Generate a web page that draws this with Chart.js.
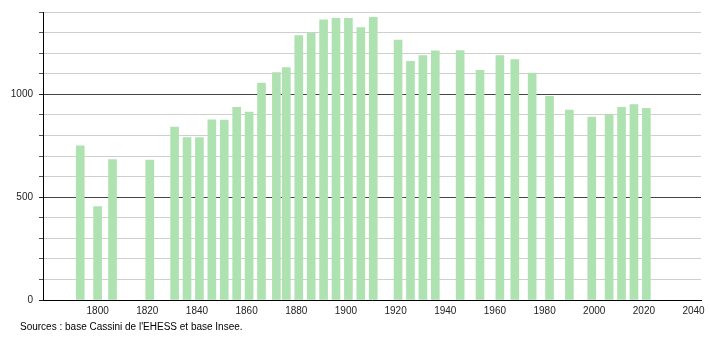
<!DOCTYPE html>
<html>
<head>
<meta charset="utf-8">
<script src="https://cdn.jsdelivr.net/npm/chart.js@4/dist/chart.umd.min.js"></script>
<style>
    html, body { margin: 0; padding: 0; background: #fff; }
    #wrap { position: relative; width: 710px; height: 340px; }
    #source { position: absolute; left: 20px; top: 321px; font: 10px "Liberation Sans", Arial, sans-serif; color: #000; white-space: nowrap; }
</style>
</head>
<body>
<div id="wrap">
    <canvas id="chart" width="710" height="340"></canvas>
    <div id="source">Sources : base Cassini de l'EHESS et base Insee.</div>
</div>
<script>
// ===== POPULATION DATA =====
const years = [1793, 1800, 1806, 1821, 1831, 1836, 1841, 1846, 1851, 1856, 1861, 1866,
    1872, 1876, 1881, 1886, 1891, 1896, 1901, 1906, 1911, 1921, 1926, 1931, 1936,
    1946, 1954, 1962, 1968, 1975, 1982, 1990, 1999, 2006, 2011, 2016, 2021];
const population = [749, 454, 682, 680, 840, 789, 789, 876, 875, 937, 913, 1055,
    1106, 1130, 1285, 1296, 1362, 1369, 1369, 1324, 1374, 1264, 1160, 1188, 1211,
    1213, 1116, 1188, 1169, 1103, 990, 923, 889, 902, 937, 950, 932];
const xTicks = [1800, 1820, 1840, 1860, 1880, 1900, 1920, 1940, 1960, 1980, 2000, 2020, 2040];
const yLabels = [0, 500, 1000];

const labelFont = { family: '"Liberation Sans", Arial, sans-serif', size: 10 };

new Chart(document.getElementById('chart'), {
    type: 'bar',
    data: {
        datasets: [{
            data: years.map((y, i) => ({ x: y, y: population[i] })),
            backgroundColor: '#afe2b1',
            borderWidth: 0,
            barThickness: 8
        }]
    },
    options: {
        responsive: false,
        animation: false,
        layout: { padding: { top: 10, right: 9, left: 0, bottom: 0 } },
        plugins: { legend: { display: false }, tooltip: { enabled: false } },
        scales: {
            x: {
                type: 'linear',
                offset: false,
                min: 1778,
                max: 2043,
                afterBuildTicks: s => { s.ticks = xTicks.map(v => ({ value: v })); },
                afterFit: s => { s.height = 40; },
                grid: { display: false, drawTicks: false },
                border: { display: true, color: '#000', width: 1 },
                ticks: { color: '#222', font: labelFont, padding: 5, maxRotation: 0, autoSkip: false, callback: v => String(v) }
            },
            y: {
                min: 0,
                max: 1400,
                afterFit: s => { s.width = 43; },
                ticks: {
                    stepSize: 100,
                    color: '#222',
                    font: labelFont,
                    padding: 6,
                    callback: v => yLabels.includes(v) ? String(v) : ''
                },
                grid: {
                    color: c => (c.tick && c.tick.value % 500 === 0 && c.tick.value > 0) ? '#444' : '#cfcfcf',
                    tickColor: c => (c.tick && c.tick.value % 500 === 0) ? '#222' : '#555',
                    tickLength: 4,
                    lineWidth: 1
                },
                border: { display: true, color: '#000', width: 1 }
            }
        }
    }
});
</script>
</body>
</html>
